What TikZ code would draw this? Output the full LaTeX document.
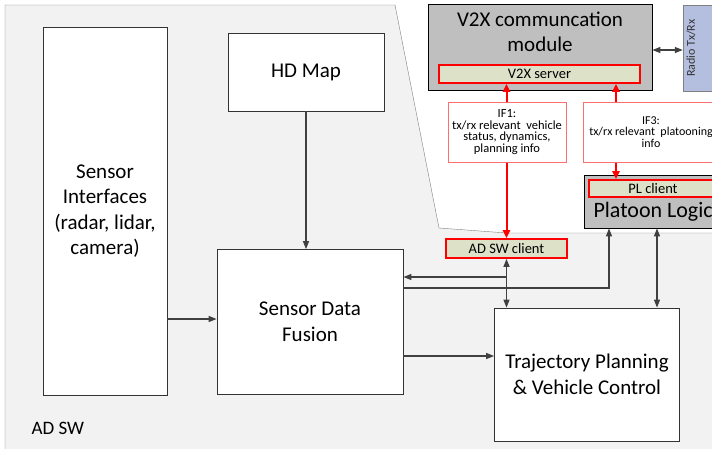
\documentclass[tikz,border=0pt]{standalone}
\usepackage{fontspec}
\setmainfont{Carlito}
\usetikzlibrary{arrows.meta}
\definecolor{swgray}{RGB}{242,242,242}
\definecolor{modgray}{RGB}{191,191,191}
\definecolor{clientfill}{RGB}{221,225,200}
\definecolor{radioblue}{RGB}{180,190,222}
\definecolor{arrowgray}{RGB}{64,64,64}
\definecolor{ifred}{RGB}{255,110,110}
\begin{document}
\begin{tikzpicture}[x=1pt,y=-1pt]
        \tikzstyle{block}=[draw=black!80,thick,fill=white,inner sep=0pt,align=center,font=\fontsize{21}{25.5}\selectfont]
        \tikzstyle{module}=[draw=black,thick,fill=modgray,inner sep=0pt]
        \tikzstyle{client}=[draw=red,line width=1.6pt,fill=clientfill,inner sep=0pt,font=\fontsize{14.5}{16}\selectfont]
        \tikzstyle{iface}=[draw=ifred,thick,fill=white,inner sep=0pt,align=center,font=\fontsize{12.5}{11.6}\selectfont]
        \tikzstyle{edge}=[draw=arrowgray,line width=1.2pt,-{Triangle[length=8pt,width=6pt]}]
        \tikzstyle{biedge}=[draw=arrowgray,line width=1.2pt,{Triangle[length=8pt,width=6pt]}-{Triangle[length=8pt,width=6pt]}]
        \tikzstyle{redge}=[draw=red,line width=2pt,{Triangle[length=8pt,width=7pt]}-{Triangle[length=8pt,width=7pt]}]
        \useasboundingbox (0,0) rectangle (712,448);
        % AD SW area
        \filldraw[fill=swgray,draw=black!50] (5,460) -- (5,5) -- (395,5) -- (439,228) -- (507,233) -- (730,233) -- (730,460) -- cycle;
        \node[anchor=west,font=\fontsize{19}{22}\selectfont] (adsw) at (28,428) {AD SW};
        % blocks
        \node[block,minimum width=124,minimum height=368] (sensif) at (105,211) {Sensor\\Interfaces\\(radar, lidar,\\camera)};
        \node[block,minimum width=156,minimum height=78] (hdmap) at (306,72) {HD Map};
        \node[block,minimum width=186,minimum height=145] (fusion) at (310,322) {Sensor Data\\Fusion};
        \node[block,minimum width=185,minimum height=133] (traj) at (587,374.5) {Trajectory Planning\\\& Vehicle Control};
        % V2X side
        \node[module,minimum width=224,minimum height=86] (v2x) at (540,47) {};
        \node[align=center,font=\fontsize{21}{25}\selectfont] (v2xtext) at (540,32) {V2X communcation\\module};
        \node[client,minimum width=201,minimum height=18] (v2xsrv) at (539.5,74) {V2X server};
        \node[draw=black!50,fill=radioblue,minimum width=50,minimum height=86,inner sep=0pt] (radio) at (708,48) {};
        \node[rotate=90,font=\fontsize{12}{14}\selectfont,text=black!80] (radiotext) at (691,48) {Radio Tx/Rx};
        \node[module,minimum width=140,minimum height=53] (platoon) at (654,201.5) {};
        \node[client,minimum width=128,minimum height=17] (plclient) at (653,188.5) {PL client};
        \node[anchor=west,font=\fontsize{22}{26}\selectfont] (pltext) at (590,212) {Platoon Logic};
        \node[client,minimum width=121,minimum height=19] (adswc) at (506.5,248.5) {AD SW client};
        \coordinate (r3) at (616,0);
        \coordinate (pl1) at (609,0);
        \coordinate (pl2) at (657,0);
        % interfaces
        \path[redge] (adswc.north) -- (adswc.north |- v2xsrv.south);
        \path[redge] (plclient.north -| r3) -- (v2xsrv.south -| r3);
        \node[iface,minimum width=118,minimum height=60] (if1) at (507,132) {IF1:\\tx/rx relevant\ \ vehicle\\status, dynamics,\\planning info};
        \node[iface,minimum width=136,minimum height=60,font=\fontsize{12}{11.6}\selectfont] (if3) at (651,132) {IF3:\\tx/rx relevant\ \ platooning\\info};
        % connections
        \path[edge] (hdmap.south) -- (hdmap.south |- fusion.north);
        \path[edge] (sensif.east |- 0,319) -- (fusion.west |- 0,319);
        \path[biedge] (adswc.south) -- (adswc.south |- traj.north);
        \path[edge] (adswc.south |- 0,277) -- (fusion.east |- 0,277);
        \path[edge] (fusion.east |- 0,288) -| (pl1 |- platoon.south);
        \path[biedge] (pl2 |- platoon.south) -- (pl2 |- traj.north);
        \path[edge] (fusion.east |- 0,356) -- (traj.west |- 0,356);
        \path[biedge] (v2x.east |- 0,50) -- (radio.west |- 0,50);
\end{tikzpicture}
\end{document}
